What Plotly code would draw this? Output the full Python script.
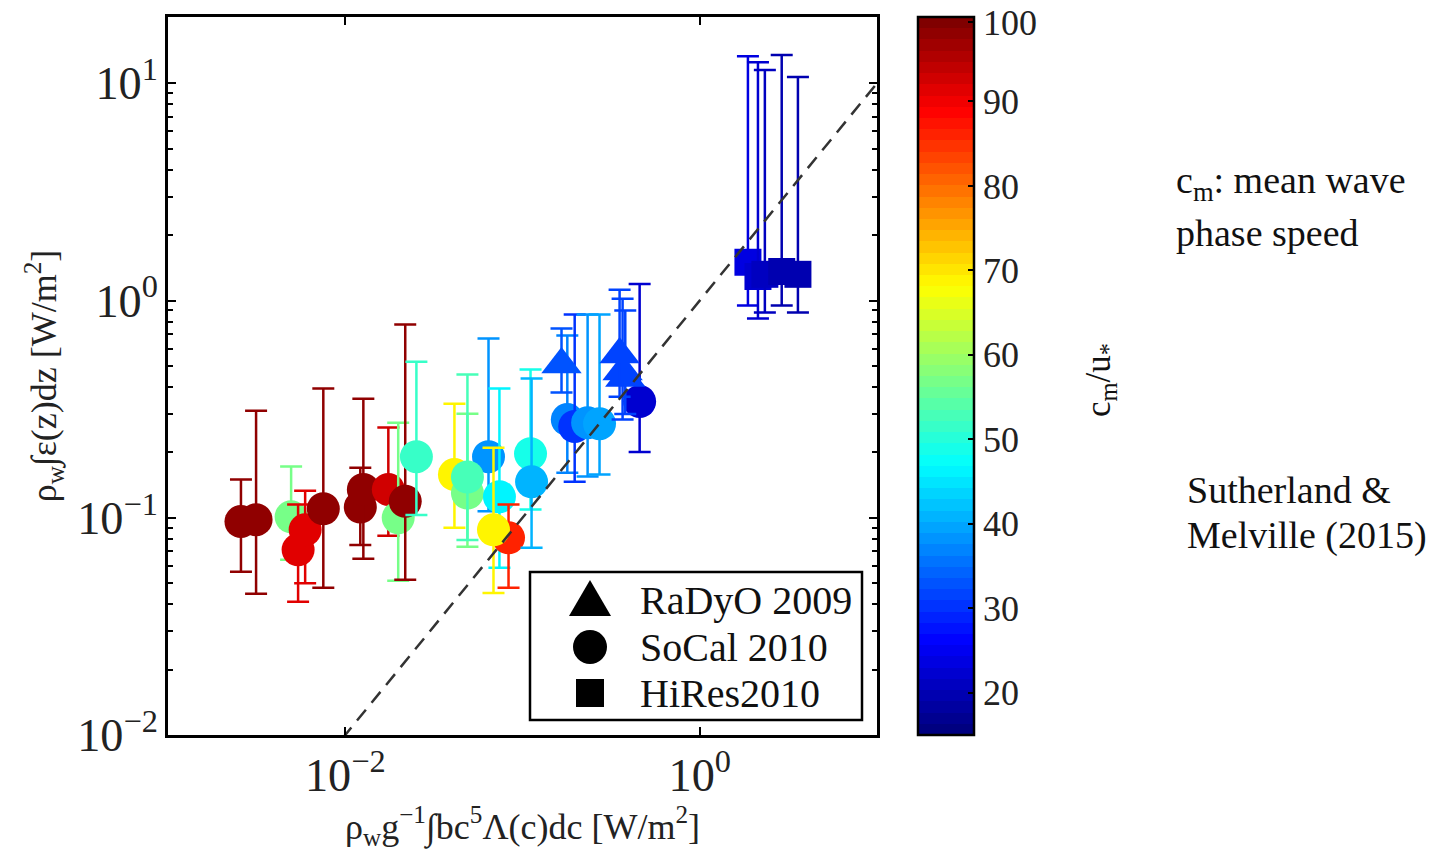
import plotly.graph_objects as go
import numpy as np

# ---------------- data ----------------
# SoCal 2010 (circles)
socal_x  = [0.00258, 0.00314, 0.00495, 0.00542, 0.00594, 0.00752, 0.01216, 0.01265, 0.0175, 0.0199,
            0.0218, 0.0252, 0.0413, 0.0489, 0.0643, 0.0489, 0.0741, 0.0834, 0.0686, 0.111,
            0.1125, 0.179, 0.197, 0.233, 0.272, 0.458]
socal_y  = [0.096, 0.098, 0.101, 0.0712, 0.088, 0.110, 0.112, 0.135, 0.135, 0.100,
            0.119, 0.191, 0.158, 0.130, 0.191, 0.154, 0.125, 0.0809, 0.088, 0.197,
            0.1465, 0.283, 0.263, 0.274, 0.271, 0.343]
socal_hi = [0.150, 0.311, 0.172, 0.115, 0.133, 0.393, 0.170, 0.353, 0.260, 0.274,
            0.775, 0.523, 0.335, 0.301, 0.668, 0.456, 0.393, 0.115, 0.210, 0.481,
            0.437, 0.690, 0.862, 0.862, 0.862, 1.19]
socal_lo = [0.0564, 0.0447, 0.064, 0.041, 0.050, 0.0476, 0.075, 0.0647, 0.0826, 0.0513,
            0.0518, 0.103, 0.0899, 0.0735, 0.107, 0.079, 0.0589, 0.0476, 0.0451, 0.109,
            0.0727, 0.161, 0.1465, 0.155, 0.158, 0.201]
socal_c  = [98, 98, 57, 91, 92, 98, 98, 98, 93, 57,
            98, 52, 69, 57, 38, 53, 46, 86, 69, 49,
            41, 37, 30, 38, 40, 22]

# RaDyO 2009 (triangles)
radyo_x  = [0.166, 0.38, 0.367, 0.353]
radyo_y  = [0.507, 0.44, 0.471, 0.564]
radyo_hi = [0.743, 0.90, 1.02, 1.12]
radyo_lo = [0.377, 0.30, 0.283, 0.361]
radyo_c  = [33, 32, 32, 31]

# HiRes 2010 (squares)
hires_x  = [1.87, 2.13, 2.33, 2.90, 3.58]
hires_y  = [1.50, 1.29, 1.32, 1.36, 1.32]
hires_hi = [13.3, 12.5, 11.5, 13.5, 10.7]
hires_lo = [0.949, 0.826, 0.881, 0.949, 0.881]
hires_c  = [23, 22, 21, 19, 19]

one_to_one = [1e-3, 10.0]

c_min, c_max = 15, 100
cbar_ticks = [20, 30, 40, 50, 60, 70, 80, 90, 100]
cbar_labels = ["20", "30", "40", "50", "60", "70", "80", "90", "100"]
legend_names = ["RaDyO 2009", "SoCal 2010", "HiRes2010"]

# ---------------- MATLAB-like jet (64 bands) ----------------
N = 64
def jet_rgb(t):
    r = np.clip(min(4*t - 1.5, -4*t + 4.5), 0, 1)
    g = np.clip(min(4*t - 0.5, -4*t + 3.5), 0, 1)
    b = np.clip(min(4*t + 0.5, -4*t + 2.5), 0, 1)
    return "rgb(%d,%d,%d)" % (round(r*255), round(g*255), round(b*255))

band_cols = [jet_rgb(i/(N-1)) for i in range(N)]
colorscale = []
for i, col in enumerate(band_cols):
    colorscale.append([i/N, col])
    colorscale.append([(i+1)/N, col])

def band_color(c):
    t = (c - c_min) / (c_max - c_min)
    i = int(np.clip(np.floor(t*N), 0, N-1))
    return band_cols[i]

FONT = "Liberation Serif"
fig = go.Figure()

# keep the top label inside the page
cbar_tickpos = [min(v, c_max - 0.6) for v in cbar_ticks]

first = [True]
def add_series(xs, ys, his, los, cs, symbol, size):
    for x, y, hi, lo, c in zip(xs, ys, his, los, cs):
        col = band_color(c)
        mk = dict(symbol=symbol, size=size, color=[c], colorscale=colorscale,
                  cmin=c_min, cmax=c_max, line=dict(width=0))
        if first[0]:
            mk.update(showscale=True, colorbar=dict(
                x=(918-168)/709, xanchor="left", xref="paper", xpad=0, ypad=0,
                y=0.5, yanchor="middle", len=1.0, lenmode="fraction",
                thickness=56, outlinewidth=2.5, outlinecolor="black",
                ticks="inside", ticklen=7, tickwidth=2, tickcolor="black",
                tickmode="array", tickvals=cbar_tickpos, ticktext=cbar_labels,
                ticklabeloverflow="allow",
                tickfont=dict(family=FONT, size=36, color="#222"),
            ))
            first[0] = False
        else:
            mk.update(showscale=False)
        fig.add_trace(go.Scatter(
            x=[x], y=[y], mode="markers", marker=mk, showlegend=False,
            hoverinfo="skip",
            error_y=dict(type="data", symmetric=False, array=[hi - y],
                         arrayminus=[y - lo], color=col, thickness=2.5, width=11),
        ))

add_series(socal_x, socal_y, socal_hi, socal_lo, socal_c, "circle", 33)
add_series(radyo_x, radyo_y, radyo_hi, radyo_lo, radyo_c, "triangle-up", 35)
add_series(hires_x, hires_y, hires_hi, hires_lo, hires_c, "square", 27)

# 1:1 line
fig.add_trace(go.Scatter(x=one_to_one, y=one_to_one, mode="lines",
                         line=dict(color="#333", width=2.5, dash="14px,9px"),
                         showlegend=False, hoverinfo="skip"))

# ---------------- legend (drawn) ----------------
def px2paper(px, py):
    return (px - 168) / 709, (735 - py) / 718

lx0, ly0 = px2paper(530, 720)
lx1, ly1 = px2paper(862, 572)
fig.add_shape(type="rect", xref="paper", yref="paper", x0=lx0, y0=ly0, x1=lx1, y1=ly1,
              line=dict(color="black", width=2.5), fillcolor="white", layer="above")
rows_y = [600, 647, 693]
sx, _ = px2paper(590, 0)
_, ty = px2paper(0, rows_y[0])
fig.add_shape(type="path", xref="paper", yref="paper", xsizemode="pixel", ysizemode="pixel",
              xanchor=sx, yanchor=ty, path="M -21,-16 L 21,-16 L 0,20 Z",
              fillcolor="black", line=dict(width=0), layer="above")
_, cy = px2paper(0, rows_y[1])
fig.add_shape(type="circle", xref="paper", yref="paper", xsizemode="pixel", ysizemode="pixel",
              xanchor=sx, yanchor=cy, x0=-17, x1=17, y0=-17, y1=17,
              fillcolor="black", line=dict(width=0), layer="above")
_, qy = px2paper(0, rows_y[2])
fig.add_shape(type="rect", xref="paper", yref="paper", xsizemode="pixel", ysizemode="pixel",
              xanchor=sx, yanchor=qy, x0=-14, x1=14, y0=-14, y1=14,
              fillcolor="black", line=dict(width=0), layer="above")
tx, _ = px2paper(638, 0)
for name, ry in zip(legend_names, rows_y):
    _, yy = px2paper(0, ry)
    fig.add_annotation(x=tx, y=yy, xref="paper", yref="paper", text=name, showarrow=False,
                       xanchor="left", yanchor="middle",
                       font=dict(family=FONT, size=40, color="#111"))

# ---------------- side texts ----------------
def side_text(txt, px, py, size=38, angle=0, xanchor="left"):
    x, y = px2paper(px, py)
    fig.add_annotation(x=x, y=y, xref="paper", yref="paper", text=txt, showarrow=False,
                       xanchor=xanchor, yanchor="middle", align="left", textangle=angle,
                       font=dict(family=FONT, size=size, color="#111"))

side_text("c<sub>m</sub>: mean wave", 1174, 183, size=38)
side_text("phase speed", 1174, 233, size=38)
side_text("Sutherland &amp;", 1185, 490, size=38)
side_text("Melville (2015)", 1185, 535, size=38)
# colorbar title
side_text("c<sub>m</sub>/u<sub>*</sub>", 1100, 380, size=35, angle=-90, xanchor="center")

axis_common = dict(type="log", showline=True, linecolor="black", linewidth=2.5,
                   mirror="allticks", ticks="inside", ticklen=8, tickwidth=2,
                   tickcolor="black", showgrid=False, zeroline=False,
                   exponentformat="power", showexponent="all",
                   labelalias={"1": "10<sup>0</sup>", "10": "10<sup>1</sup>"},
                   tickfont=dict(family=FONT, size=37, color="#222"))

fig.update_layout(
    width=1444, height=865,
    margin=dict(l=168, r=567, t=17, b=130),
    paper_bgcolor="white", plot_bgcolor="white",
    xaxis=dict(**axis_common, range=[-3, 1], tickmode="linear", tick0=0, dtick=2,
               title=dict(text="ρ<sub>w</sub>g<sup>−1</sup>∫bc<sup>5</sup>Λ(c)dc [W/m<sup>2</sup>]",
                          font=dict(family=FONT, size=36, color="#222"), standoff=8)),
    yaxis=dict(**axis_common, range=[-2, 1.305], tickmode="linear", tick0=0, dtick=1,
               minor=dict(ticks="inside", ticklen=5, tickwidth=1.5, tickcolor="black", showgrid=False),
               title=dict(text="ρ<sub>w</sub>∫ε(z)dz [W/m<sup>2</sup>]",
                          font=dict(family=FONT, size=36, color="#222"), standoff=10)),
)

fig.write_html("out.html")
